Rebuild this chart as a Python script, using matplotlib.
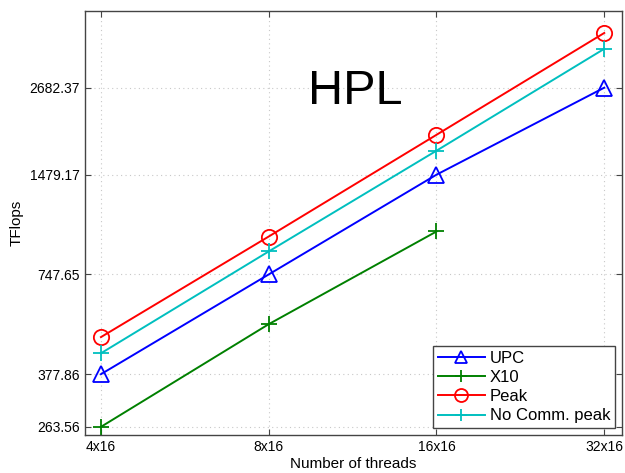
import matplotlib
matplotlib.use("Agg")
import matplotlib.pyplot as plt
from matplotlib.ticker import FixedLocator, NullLocator

plt.rcParams['font.family'] = ['Liberation Sans', 'DejaVu Sans']

threads = ["4x16", "8x16", "16x16", "32x16"]
upc = [377.86, 747.65, 1479.17, 2682.37]
x10 = [263.56, 532, 1003]
peak = [487, 969, 1943, 3900]
no_comm = [436, 875, 1743, 3499]
yticks = [263.56, 377.86, 747.65, 1479.17, 2682.37]

fig = plt.figure(figsize=(6.25, 4.73), dpi=100)
ax = fig.add_axes([0.136, 0.080, 0.859, 0.897])

xs = range(len(threads))
ax.plot(xs, upc, color="#0000ff", marker="^", mfc="none", ms=11, mew=1.3, lw=1.4, label="UPC")
ax.plot(xs[:len(x10)], x10, color="#008000", marker="+", ms=11, mew=1.3, lw=1.4, label="X10")
ax.plot(xs, peak, color="#ff0000", marker="o", mfc="none", ms=11, mew=1.3, lw=1.4, label="Peak")
ax.plot(xs, no_comm, color="#00bfbf", marker="+", ms=11, mew=1.3, lw=1.4, label="No Comm. peak")

ax.set_yscale("log")
ax.set_ylim(249, 4536)
ax.set_xlim(-0.095, 3.105)
ax.yaxis.set_major_locator(FixedLocator(yticks))
ax.yaxis.set_minor_locator(NullLocator())
ax.set_yticklabels([f"{v:.2f}" for v in yticks])
ax.set_xticks(list(xs))
ax.set_xticklabels(threads)
ax.tick_params(direction="in", length=4, labelsize=10, top=True, right=True, color="#444444")
ax.grid(True, linestyle=(0, (1, 3)), color="#c8c8c8", lw=0.8)
for s in ax.spines.values():
    s.set_color("#444444")
    s.set_linewidth(1.0)

ax.set_xlabel("Number of threads", fontsize=11, labelpad=2)
ax.set_ylabel("TFlops", fontsize=11, labelpad=4)
ax.text(0.503, 0.81, "HPL", transform=ax.transAxes, fontsize=35, ha="center", va="center")

leg = ax.legend(loc="lower right", fontsize=12, fancybox=False, framealpha=1,
                edgecolor="#444444", borderaxespad=0.4, handlelength=2.8,
                borderpad=0.3, labelspacing=0.25, handletextpad=0.3, markerscale=0.85)
leg.get_frame().set_linewidth(1.0)

fig.savefig("out.png", dpi=100)
